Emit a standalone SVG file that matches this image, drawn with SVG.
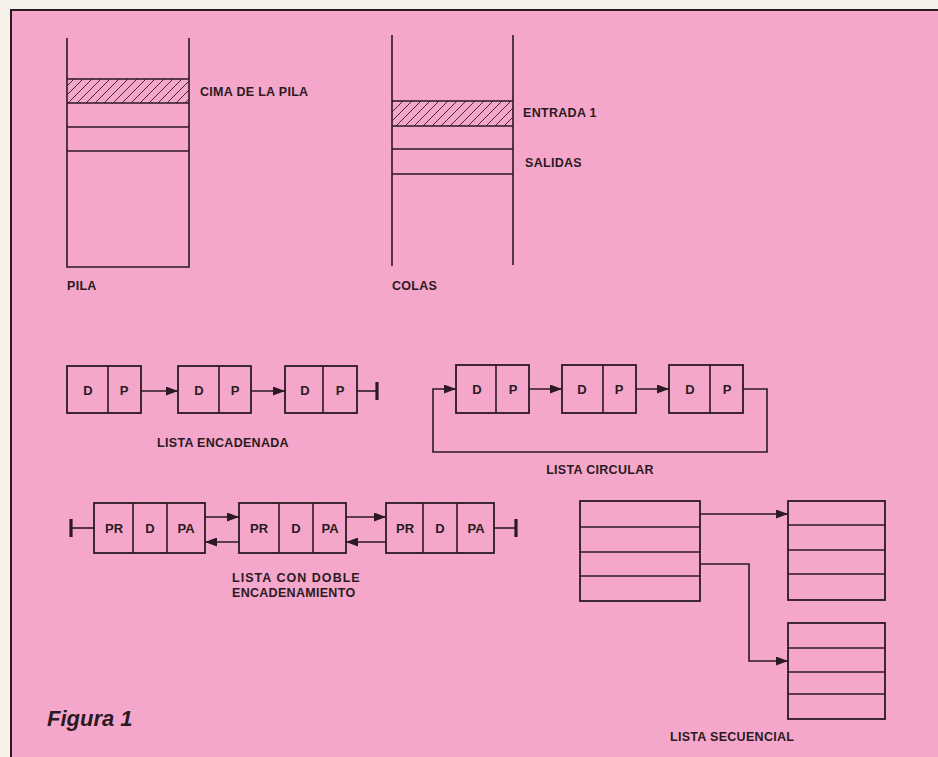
<svg xmlns="http://www.w3.org/2000/svg" width="938" height="757" viewBox="0 0 938 757">
<style>
.ln{stroke:#2b1a22;stroke-width:1.6;fill:none}
.bar{stroke:#2b1a22;stroke-width:3.2;fill:none}
.bx{stroke:#2b1a22;stroke-width:1.8;fill:none}
.t{font-family:"Liberation Sans",Arial,sans-serif;font-weight:bold;font-size:12.5px;fill:#2b1a22;letter-spacing:0.3px}
.c{text-anchor:middle}
.cell{font-family:"Liberation Sans",Arial,sans-serif;font-weight:bold;font-size:13px;fill:#2b1a22;text-anchor:middle}
</style>
<defs>
<pattern id="hatch" patternUnits="userSpaceOnUse" width="9" height="9">
<path d="M-1,10 L10,-1 M-5,5 L5,-5 M4,14 L14,4" stroke="#2b1a22" stroke-width="0.9"/>
</pattern>
<marker id="ah" viewBox="0 0 12 9" refX="12" refY="4.5" markerWidth="12" markerHeight="9" markerUnits="userSpaceOnUse" orient="auto">
<path d="M0,0 L12,4.5 L0,9 Z" fill="#2b1a22"/>
</marker>
</defs>
<rect x="0" y="0" width="938" height="757" fill="#f6f1ea"/>
<rect x="11" y="10" width="927" height="747" fill="#f4a7ca"/>
<path d="M11,757 L11,10 L938,10" stroke="#2b1a22" stroke-width="2" fill="none"/>

<g id="pila">
<rect x="67" y="79" width="122" height="24" fill="url(#hatch)"/>
<path class="ln" d="M67,38 V267 H189 V38 M67,79 H189 M67,103 H189 M67,127 H189 M67,151 H189"/>
<text class="t" x="200" y="96">CIMA DE LA PILA</text>
<text class="t" x="67" y="290">PILA</text>
</g>

<g id="colas">
<rect x="392" y="101" width="121" height="25" fill="url(#hatch)"/>
<path class="ln" d="M392,35 V266 M513,35 V265 M392,101 H513 M392,126 H513 M392,149 H513 M392,174 H513"/>
<text class="t" x="523" y="117">ENTRADA 1</text>
<text class="t" x="525" y="167">SALIDAS</text>
<text class="t" x="392" y="290">COLAS</text>
</g>

<g id="lista-encadenada">
<g id="le1"><rect class="bx" x="67" y="366" width="74" height="47"/><line class="ln" x1="108" y1="366" x2="108" y2="413"/><text class="cell" x="88" y="395">D</text><text class="cell" x="124" y="395">P</text></g>
<g id="le2"><rect class="bx" x="178" y="366" width="73" height="47"/><line class="ln" x1="219" y1="366" x2="219" y2="413"/><text class="cell" x="199" y="395">D</text><text class="cell" x="235" y="395">P</text></g>
<g id="le3"><rect class="bx" x="285" y="366" width="72" height="47"/><line class="ln" x1="323" y1="366" x2="323" y2="413"/><text class="cell" x="305" y="395">D</text><text class="cell" x="340" y="395">P</text></g>
<text class="t c" x="223" y="447">LISTA ENCADENADA</text>
</g>

<g id="lista-circular">
<g id="lc1"><rect class="bx" x="456" y="365" width="73" height="48"/><line class="ln" x1="496" y1="365" x2="496" y2="413"/><text class="cell" x="477" y="394">D</text><text class="cell" x="513" y="394">P</text></g>
<g id="lc2"><rect class="bx" x="562" y="365" width="74" height="48"/><line class="ln" x1="603" y1="365" x2="603" y2="413"/><text class="cell" x="582" y="394">D</text><text class="cell" x="619" y="394">P</text></g>
<g id="lc3"><rect class="bx" x="669" y="365" width="74" height="48"/><line class="ln" x1="710" y1="365" x2="710" y2="413"/><text class="cell" x="690" y="394">D</text><text class="cell" x="727" y="394">P</text></g>
<text class="t c" x="600" y="474">LISTA CIRCULAR</text>
</g>

<g id="lista-doble">
<g id="ld1"><rect class="bx" x="94" y="503" width="111" height="50"/><path class="ln" d="M133,503 V553 M167,503 V553"/><text class="cell" x="114" y="533">PR</text><text class="cell" x="150" y="533">D</text><text class="cell" x="186" y="533">PA</text></g>
<g id="ld2"><rect class="bx" x="239" y="503" width="107" height="50"/><path class="ln" d="M279,503 V553 M313,503 V553"/><text class="cell" x="259" y="533">PR</text><text class="cell" x="296" y="533">D</text><text class="cell" x="330" y="533">PA</text></g>
<g id="ld3"><rect class="bx" x="386" y="503" width="108" height="50"/><path class="ln" d="M423,503 V553 M457,503 V553"/><text class="cell" x="405" y="533">PR</text><text class="cell" x="440" y="533">D</text><text class="cell" x="476" y="533">PA</text></g>
<text class="t" x="232" y="582" textLength="128" lengthAdjust="spacing">LISTA CON DOBLE</text>
<text class="t" x="232" y="597">ENCADENAMIENTO</text>
</g>

<g id="lista-secuencial">
<g id="ls1"><rect class="bx" x="580" y="501" width="120" height="100"/><path class="ln" d="M580,527 H700 M580,552 H700 M580,576 H700"/></g>
<g id="ls2"><rect class="bx" x="788" y="501" width="97" height="99"/><path class="ln" d="M788,525 H885 M788,550 H885 M788,574 H885"/></g>
<g id="ls3"><rect class="bx" x="788" y="623" width="97" height="96"/><path class="ln" d="M788,648 H885 M788,672 H885 M788,694 H885"/></g>
<text class="t" x="670" y="741">LISTA SECUENCIAL</text>
</g>

<g id="connectors">
<line class="ln" x1="141" y1="391" x2="178" y2="391" marker-end="url(#ah)"/>
<line class="ln" x1="251" y1="391" x2="285" y2="391" marker-end="url(#ah)"/>
<path class="ln" d="M357,391 H377"/>
<path class="bar" d="M377,382 V400"/>
<line class="ln" x1="529" y1="389" x2="562" y2="389" marker-end="url(#ah)"/>
<line class="ln" x1="636" y1="389" x2="669" y2="389" marker-end="url(#ah)"/>
<path class="ln" d="M743,389 H767 V452 H433 V389 H456" marker-end="url(#ah)"/>
<line class="ln" x1="205" y1="517" x2="239" y2="517" marker-end="url(#ah)"/>
<line class="ln" x1="239" y1="542" x2="205" y2="542" marker-end="url(#ah)"/>
<line class="ln" x1="346" y1="517" x2="386" y2="517" marker-end="url(#ah)"/>
<line class="ln" x1="386" y1="542" x2="346" y2="542" marker-end="url(#ah)"/>
<path class="ln" d="M71,528 H94"/>
<path class="bar" d="M71,519 V537"/>
<path class="ln" d="M494,528 H516"/>
<path class="bar" d="M516,519 V537"/>
<line class="ln" x1="700" y1="514" x2="788" y2="514" marker-end="url(#ah)"/>
<path class="ln" d="M700,564 H749 V661 H788" marker-end="url(#ah)"/>
</g>

<text x="47" y="726" font-family="'Liberation Sans',Arial,sans-serif" font-weight="bold" font-style="italic" font-size="22" fill="#2b1a22">Figura 1</text>
</svg>
